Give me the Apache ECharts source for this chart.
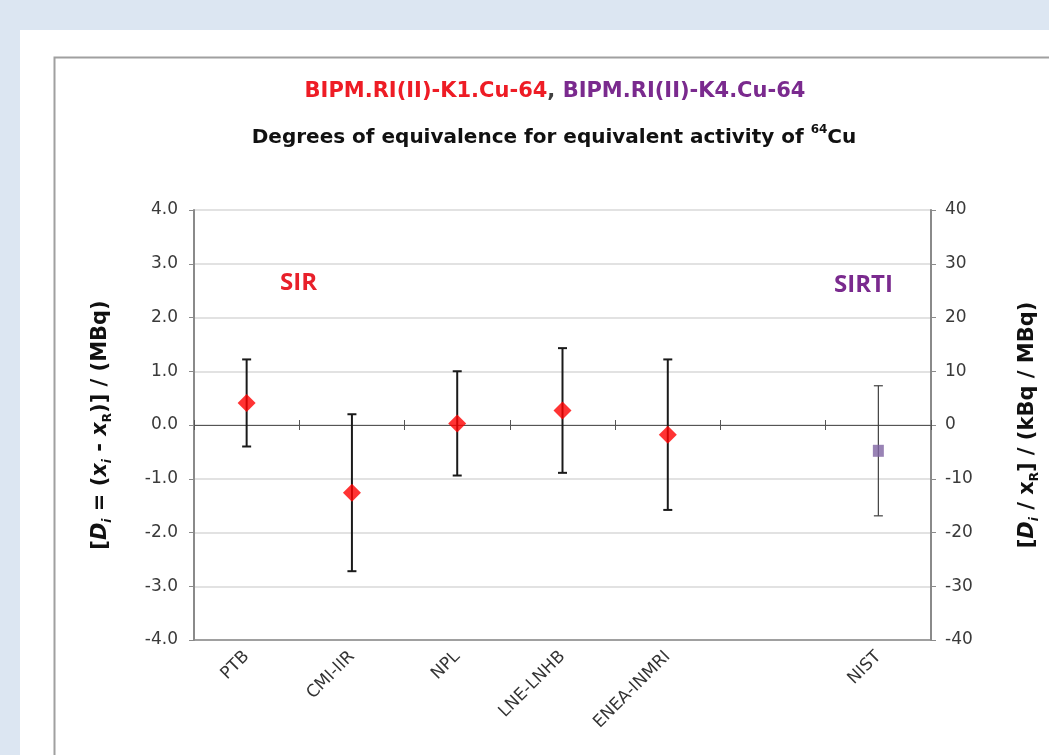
<!DOCTYPE html>
<html>
<head>
<meta charset="utf-8">
<script src="https://cdn.jsdelivr.net/npm/echarts@6/dist/echarts.min.js"></script>
<style>
html,body{margin:0;padding:0;background:#dce6f2;}
#c{width:1049px;height:755px;}
</style>
</head>
<body>
<div id="c"></div>
<script>
// ---- data ----
const categories = ['PTB', 'CMI-IIR', 'NPL', 'LNE-LNHB', 'ENEA-INMRI', '', 'NIST'];
const sirLabs = ['PTB', 'CMI-IIR', 'NPL', 'LNE-LNHB', 'ENEA-INMRI'];
const sirDi = [0.41, -1.26, 0.03, 0.27, -0.18];
const sirU = [0.81, 1.46, 0.97, 1.16, 1.40];
const sirtiLabs = ['NIST'];
const sirtiDi = [-0.48];
const sirtiU = [1.21];
const leftTicks = { min: -4, max: 4, interval: 1 };
const rightTicks = { min: -40, max: 40, interval: 10 };

const sirPts = sirLabs.map((l, i) => [l, sirDi[i]]);
const sirErr = sirLabs.map((l, i) => [l, sirDi[i] - sirU[i], sirDi[i] + sirU[i]]);
const sirtiPts = sirtiLabs.map((l, i) => [l, sirtiDi[i]]);
const sirtiErr = sirtiLabs.map((l, i) => [l, sirtiDi[i] - sirtiU[i], sirtiDi[i] + sirtiU[i]]);

function errRender(color, width) {
  return function (params, api) {
    const x = api.value(0);
    const lo = api.coord([x, api.value(1)]);
    const hi = api.coord([x, api.value(2)]);
    const cap = 4.5;
    const st = { stroke: color, lineWidth: width };
    return {
      type: 'group',
      children: [
        { type: 'line', shape: { x1: lo[0], y1: lo[1], x2: hi[0], y2: hi[1] }, style: st },
        { type: 'line', shape: { x1: lo[0] - cap, y1: lo[1], x2: lo[0] + cap, y2: lo[1] }, style: st },
        { type: 'line', shape: { x1: hi[0] - cap, y1: hi[1], x2: hi[0] + cap, y2: hi[1] }, style: st }
      ]
    };
  };
}

const FONT = '"DejaVu Sans", "Liberation Sans", sans-serif';
const nameRich = {
  b: { fontFamily: FONT, fontWeight: 'bold', fontSize: 21, color: '#111', lineHeight: 26, verticalAlign: 'middle' },
  bi: { fontFamily: FONT, fontWeight: 'bold', fontStyle: 'italic', fontSize: 21, color: '#111', lineHeight: 26, verticalAlign: 'middle' },
  sub: { fontFamily: FONT, fontWeight: 'bold', fontSize: 12, color: '#111', lineHeight: 26, verticalAlign: 'bottom' },
  subi: { fontFamily: FONT, fontWeight: 'bold', fontStyle: 'italic', fontSize: 12, color: '#111', lineHeight: 26, verticalAlign: 'bottom' }
};
const chart = echarts.init(document.getElementById('c'));
chart.setOption({
  backgroundColor: '#dce6f2',
  animation: false,
  graphic: [
    { type: 'rect', left: 20, top: 30, shape: { width: 1029, height: 725 }, style: { fill: '#ffffff' }, z: -10 },
    { type: 'rect', left: 52, top: 55, shape: { width: 1100, height: 800 }, style: { fill: 'none', stroke: '#a0a0a0', lineWidth: 2 }, z: -9 },
    { type: 'text', left: 280, top: 271, style: { text: 'SIR', fill: '#e8202a', font: 'bold 24px "Open Sans", sans-serif' } },
    { type: 'text', left: 834, top: 273, style: { text: 'SIRTI', fill: '#7a2a8e', font: 'bold 24px "Open Sans", sans-serif' } }
  ],
  title: [
    {
      left: 550, top: 76, textAlign: 'center',
      text: '{r|BIPM.RI(II)-K1.Cu-64}{k|, }{p|BIPM.RI(II)-K4.Cu-64}',
      textStyle: {
        rich: {
          r: { color: '#ee1c25', fontFamily: FONT, fontWeight: 'bold', fontSize: 21 },
          k: { color: '#404040', fontFamily: FONT, fontWeight: 'bold', fontSize: 21 },
          p: { color: '#7a2a8e', fontFamily: FONT, fontWeight: 'bold', fontSize: 21 }
        }
      }
    },
    {
      left: 549, top: 119, textAlign: 'center',
      text: '{t|Degrees of equivalence for equivalent activity of }{s|64}{t|Cu}',
      textStyle: {
        rich: {
          t: { color: '#111', fontFamily: FONT, fontWeight: 'bold', fontSize: 20, lineHeight: 24, verticalAlign: 'bottom' },
          s: { color: '#111', fontFamily: FONT, fontWeight: 'bold', fontSize: 12, lineHeight: 24, verticalAlign: 'top' }
        }
      }
    }
  ],
  grid: { left: 194, right: 117, top: 210, bottom: 115, containLabel: false },
  xAxis: [
    {
      type: 'category', data: categories, position: 'bottom',
      axisLine: { onZero: false, lineStyle: { color: '#8a8a8a', width: 1.5 } },
      axisTick: { show: false },
      axisLabel: { rotate: 45, margin: 14, color: '#333', fontFamily: FONT, fontSize: 17, interval: 0 },
      splitLine: { show: false }
    },
    {
      type: 'category', data: categories, position: 'bottom',
      axisLine: { onZero: true, onZeroAxisIndex: 0, lineStyle: { color: '#555', width: 1 } },
      axisTick: { show: true, inside: true, length: 5, lineStyle: { color: '#555' } },
      axisLabel: { show: false }, splitLine: { show: false }
    },
    {
      type: 'category', data: categories, position: 'bottom',
      axisLine: { onZero: true, onZeroAxisIndex: 0, lineStyle: { color: '#555', width: 1 } },
      axisTick: { show: true, inside: false, length: 5, lineStyle: { color: '#555' } },
      axisLabel: { show: false }, splitLine: { show: false }
    }
  ],
  yAxis: [
    {
      type: 'value', position: 'left',
      min: leftTicks.min, max: leftTicks.max, interval: leftTicks.interval,
      axisLine: { show: true, lineStyle: { color: '#8a8a8a', width: 2 } },
      axisTick: { show: true, length: 5, lineStyle: { color: '#8a8a8a' } },
      axisLabel: { margin: 16, color: '#3a3a3a', fontFamily: FONT, fontSize: 17, formatter: v => v.toFixed(1) },
      splitLine: { show: true, lineStyle: { color: '#d9d9d9', width: 1.5 } },
      name: '{b|[}{bi|D}{subi|i}{b| = (}{bi|x}{subi|i}{b| - }{bi|x}{sub|R}{b|)] / (MBq)}',
      nameLocation: 'middle', nameGap: 80, nameRotate: 90,
      nameTextStyle: { rich: nameRich }
    },
    {
      type: 'value', position: 'right',
      min: rightTicks.min, max: rightTicks.max, interval: rightTicks.interval,
      axisLine: { show: true, lineStyle: { color: '#8a8a8a', width: 2 } },
      axisTick: { show: true, length: 5, lineStyle: { color: '#8a8a8a' } },
      axisLabel: { margin: 14, color: '#3a3a3a', fontFamily: FONT, fontSize: 17 },
      splitLine: { show: false },
      name: '{b|[}{bi|D}{subi|i}{b| / x}{sub|R}{b|] / (kBq / MBq)}',
      nameLocation: 'middle', nameGap: 84, nameRotate: 90,
      nameTextStyle: { rich: nameRich }
    }
  ],
  series: [
    { type: 'custom', xAxisIndex: 0, yAxisIndex: 0, renderItem: errRender('#1a1a1a', 2), data: sirErr, z: 3, encode: { x: 0, y: [1, 2] } },
    { type: 'custom', xAxisIndex: 0, yAxisIndex: 0, renderItem: errRender('#404040', 1.2), data: sirtiErr, z: 3, encode: { x: 0, y: [1, 2] } },
    { type: 'scatter', xAxisIndex: 0, yAxisIndex: 0, data: sirPts, symbol: 'diamond', symbolSize: [18, 18], itemStyle: { color: '#ff0000' }, z: 5 },
    { type: 'scatter', xAxisIndex: 0, yAxisIndex: 0, data: sirtiPts, symbol: 'rect', symbolSize: [11, 12], itemStyle: { color: '#8064a2' }, z: 5 }
  ]
});
</script>
</body>
</html>
